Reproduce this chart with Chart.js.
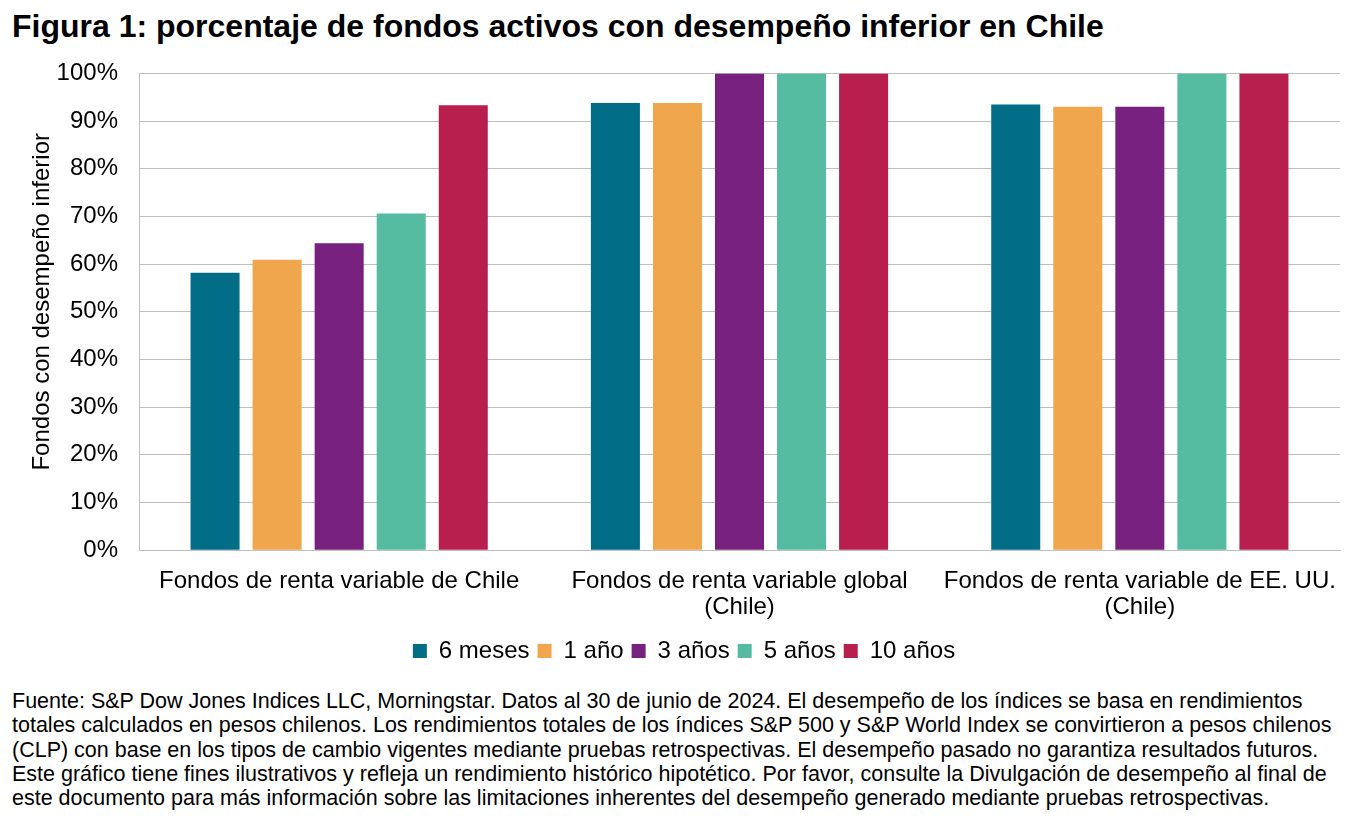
<!DOCTYPE html>
<html>
<head>
<meta charset="utf-8">
<script src="https://cdn.jsdelivr.net/npm/chart.js@4.4.1/dist/chart.umd.min.js"></script>
<style>
  body { margin: 0; background: #fff; font-family: "Liberation Sans", Arial, sans-serif; }
  #title { position: absolute; left: 12px; top: 10px; font-size: 32px; line-height: 1; font-weight: bold; color: #000; white-space: nowrap; }
  #wrap { position: absolute; left: 0; top: 38px; width: 1371px; height: 635px; }
  #note { position: absolute; left: 12px; top: 689px; font-size: 21.5px; line-height: 24.3px; color: #000; white-space: nowrap; }
</style>
</head>
<body>
<div id="title">Figura 1: porcentaje de fondos activos con desempeño inferior en Chile</div>
<div id="wrap"><canvas id="chart"></canvas></div>
<div id="note">Fuente: S&amp;P Dow Jones Indices LLC, Morningstar. Datos al 30 de junio de 2024. El desempeño de los índices se basa en rendimientos<br>totales calculados en pesos chilenos. Los rendimientos totales de los índices S&amp;P 500 y S&amp;P World Index se convirtieron a pesos chilenos<br>(CLP) con base en los tipos de cambio vigentes mediante pruebas retrospectivas. El desempeño pasado no garantiza resultados futuros.<br>Este gráfico tiene fines ilustrativos y refleja un rendimiento histórico hipotético. Por favor, consulte la Divulgación de desempeño al final de<br>este documento para más información sobre las limitaciones inherentes del desempeño generado mediante pruebas retrospectivas.</div>
<script>
/* global Chart */
const categories = [
    "Fondos de renta variable de Chile",
    ["Fondos de renta variable global", "(Chile)"],
    ["Fondos de renta variable de EE. UU.", "(Chile)"]
];
const seriesNames = ["6 meses", "1 año", "3 años", "5 años", "10 años"];
const seriesColors = ["#016D87", "#F0A64C", "#77207D", "#55BBA1", "#B81F4F"];
const meses6 = [58.2, 93.8, 93.5];
const anio1 = [60.9, 93.8, 93.0];
const anios3 = [64.4, 100, 93.0];
const anios5 = [70.6, 100, 100];
const anios10 = [93.3, 100, 100];
const yTicks = [0, 10, 20, 30, 40, 50, 60, 70, 80, 90, 100];

const allValues = [meses6, anio1, anios3, anios5, anios10];
const font = "'Liberation Sans', Arial, sans-serif";

const ctx = document.getElementById('chart').getContext('2d');
new Chart(ctx, {
    type: 'bar',
    data: {
        labels: categories,
        datasets: seriesNames.map((name, i) => ({
            label: name,
            data: allValues[i],
            backgroundColor: seriesColors[i],
            borderWidth: 0,
            categoryPercentage: 0.775,
            barPercentage: 0.79
        }))
    },
    options: {
        responsive: true,
        maintainAspectRatio: false,
        animation: false,
        layout: {
            padding: { left: 28, right: 31, top: 3, bottom: 0 }
        },
        plugins: {
            legend: {
                position: 'bottom',
                labels: {
                    color: '#000',
                    font: { family: font, size: 24 },
                    boxWidth: 14,
                    boxHeight: 14,
                    padding: 8
                }
            },
            tooltip: { enabled: false }
        },
        scales: {
            x: {
                grid: { display: false },
                border: { color: '#bfbfbf' },
                ticks: {
                    color: '#000',
                    font: { family: font, size: 24, lineHeight: 1.1 },
                    maxRotation: 0,
                    autoSkip: false,
                    padding: 10
                }
            },
            y: {
                min: 0,
                max: 100,
                afterBuildTicks: axis => { axis.ticks = yTicks.map(v => ({ value: v })); },
                afterFit: axis => { axis.width = 111; },
                grid: { color: '#bfbfbf', drawTicks: false },
                border: { color: '#bfbfbf' },
                ticks: {
                    color: '#000',
                    font: { family: font, size: 24 },
                    padding: 21,
                    callback: v => v + '%'
                },
                title: {
                    display: true,
                    text: '\u00A0\u00A0\u00A0Fondos con desempeño inferior',
                    color: '#000',
                    font: { family: font, size: 24 },
                    padding: { top: 0, bottom: 0 }
                }
            }
        }
    }
});
</script>
</body>
</html>
